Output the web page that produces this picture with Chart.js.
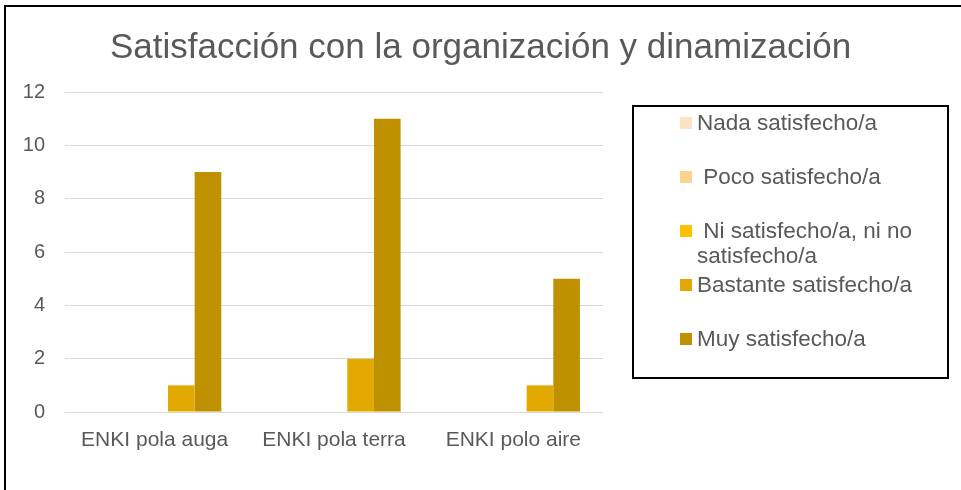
<!DOCTYPE html>
<html>
<head>
<meta charset="utf-8">
<script src="https://cdn.jsdelivr.net/npm/chart.js@4"></script>
<style>
  html, body { margin: 0; padding: 0; background: #fff; }
  #wrap { position: relative; width: 961px; height: 490px; overflow: hidden; }
  #frame { position: absolute; left: 4px; top: 5px; right: -10px; bottom: -10px;
           border-left: 2px solid #000; border-top: 2px solid #000; }
  #grafico { position: absolute; left: 0; top: 0; }
  #leyenda { position: absolute; left: 632px; top: 105px; width: 313px; height: 270px;
             border: 2px solid #000; box-sizing: content-box;
             font-family: "Liberation Sans", Arial, sans-serif; font-size: 22.5px; color: #595959; }
  .item { position: absolute; left: 46px; width: 260px; height: 54px; }
  .marca { position: absolute; left: 0; top: 7px; width: 12px; height: 12px; }
  .texto { position: absolute; left: 17px; top: 0; width: 238px; line-height: 25px; white-space: pre-wrap; }
</style>
</head>
<body>
<div id="wrap">
  <div id="frame"></div>
  <canvas id="grafico" width="961" height="490"></canvas>
  <div id="leyenda"></div>
</div>
<script>
// Datos del gráfico
const categorias = ['ENKI pola auga', 'ENKI pola terra', 'ENKI polo aire'];
const series = ['Nada satisfecho/a', ' Poco satisfecho/a', ' Ni satisfecho/a, ni no satisfecho/a', 'Bastante satisfecho/a', 'Muy satisfecho/a'];
const nada = [0, 0, 0];
const poco = [0, 0, 0];
const ni = [0, 0, 0];
const bastante = [1, 2, 1];
const muy = [9, 11, 5];
const colores = ['#FDE3C4', '#FFD28C', '#FFC000', '#E2AA00', '#BF9000'];
const ticksY = [0, 2, 4, 6, 8, 10, 12];

const valores = [nada, poco, ni, bastante, muy];
const fuente = 'Liberation Sans, Arial, sans-serif';

const ctx = document.getElementById('grafico').getContext('2d');
const grafico = new Chart(ctx, {
    type: 'bar',
    data: {
        labels: categorias,
        datasets: series.map((s, i) => ({
            label: s.trim(),
            data: valores[i],
            backgroundColor: colores[i],
            borderWidth: 0,
            categoryPercentage: 0.743,
            barPercentage: 1.0
        }))
    },
    options: {
        responsive: false,
        animation: false,
        layout: { padding: { left: 0, right: 0, top: 0, bottom: 38 } },
        plugins: {
            legend: { display: false },
            tooltip: { enabled: false },
            title: {
                display: true,
                text: 'Satisfacción con la organización y dinamización',
                color: '#595959',
                font: { family: fuente, size: 35, weight: 'normal' },
                padding: { top: 27, bottom: 23 }
            }
        },
        scales: {
            x: {
                grid: { display: false, drawTicks: false },
                border: { display: false },
                ticks: { color: '#595959', font: { family: fuente, size: 21 }, padding: 16 },
                afterFit: s => { s.height = 40; }
            },
            y: {
                min: 0,
                max: 12,
                afterBuildTicks: s => { s.ticks = ticksY.map(v => ({ value: v })); },
                grid: { color: '#D9D9D9', lineWidth: 1, drawTicks: false },
                border: { display: false },
                ticks: { color: '#595959', font: { family: fuente, size: 20 }, padding: 20 },
                afterFit: s => { s.width = 65; }
            },
            // eje vacío a la derecha para dejar sitio a la leyenda
            derecha: {
                position: 'right',
                display: true,
                grid: { display: false, drawTicks: false },
                border: { display: false },
                ticks: { display: false },
                afterFit: s => { s.width = 358; }
            }
        }
    }
});

// Leyenda en HTML a partir de las series
const leyenda = document.getElementById('leyenda');
series.forEach((s, i) => {
    const item = document.createElement('div');
    item.className = 'item';
    item.style.top = (3 + i * 54) + 'px';
    const marca = document.createElement('div');
    marca.className = 'marca';
    marca.style.background = colores[i];
    const texto = document.createElement('div');
    texto.className = 'texto';
    texto.textContent = s;
    item.appendChild(marca);
    item.appendChild(texto);
    leyenda.appendChild(item);
});
</script>
</body>
</html>
